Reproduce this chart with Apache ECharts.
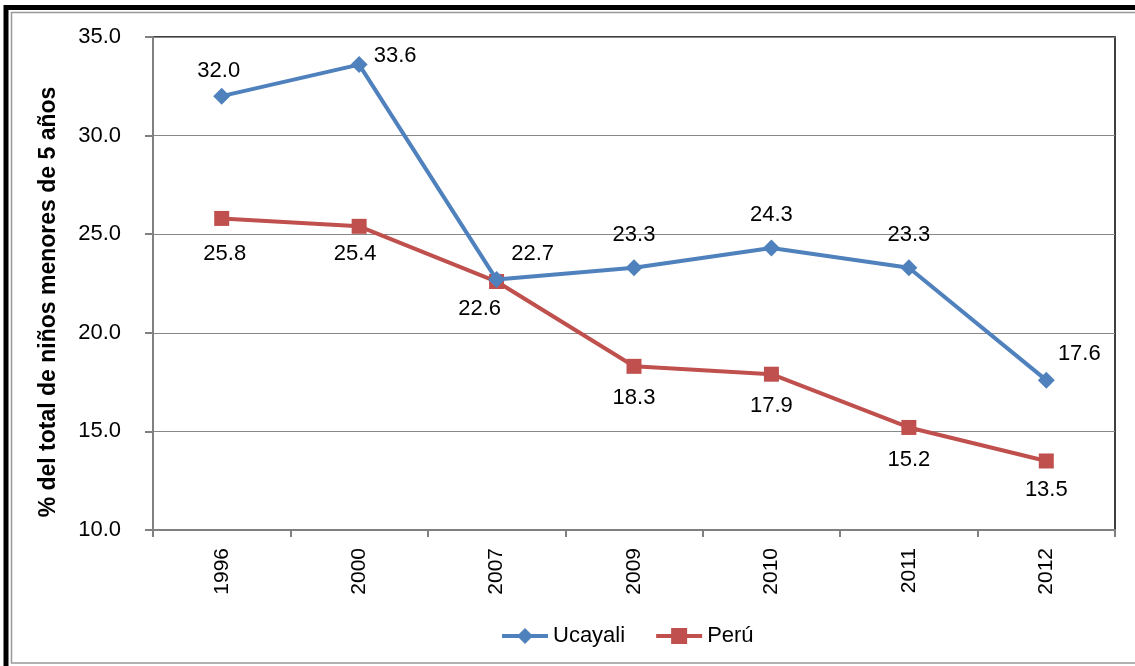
<!DOCTYPE html>
<html>
<head>
<meta charset="utf-8">
<script src="https://cdn.jsdelivr.net/npm/echarts@6/dist/echarts.min.js"></script>
<style>
  body { margin: 0; background: #fff; }
  #chart { width: 1135px; height: 666px; }
</style>
</head>
<body>
<div id="chart"></div>
<script>
var years = ['1996', '2000', '2007', '2009', '2010', '2011', '2012'];
var ucayali = [32.0, 33.6, 22.7, 23.3, 24.3, 23.3, 17.6];
var peru = [25.8, 25.4, 22.6, 18.3, 17.9, 15.2, 13.5];
var yTicks = [10, 15, 20, 25, 30, 35];

var font = '"Liberation Sans", Arial, sans-serif';

// where each data label sits (offsets in px from the point)
var ucaOffsets = [[-3, -25], [36, -9], [36, -26], [0, -33], [0, -33], [0, -33], [33, -26]];
var peruOffsets = [[3, 36], [-4, 28], [-17, 27], [0, 32], [0, 32], [0, 32], [0, 29]];

function withLabels(values, offsets) {
    return values.map(function (v, i) {
        return {
            value: v,
            label: { show: true, position: 'inside', offset: offsets[i] }
        };
    });
}

var chart = echarts.init(document.getElementById('chart'));

chart.setOption({
    backgroundColor: '#fff',
    animation: false,
    textStyle: { fontFamily: font },
    graphic: [
        { type: 'rect', shape: { x: 6, y: 7.5, width: 1140, height: 670 },
          style: { fill: 'none', stroke: '#000', lineWidth: 5 } },
        { type: 'rect', shape: { x: 11.5, y: 12.5, width: 1140, height: 650.5 },
          style: { fill: 'none', stroke: '#999', lineWidth: 1.5 } },
        { type: 'text', x: 49, y: 302, rotation: Math.PI / 2,
          style: { text: '% del total de niños menores de 5 años', fill: '#000',
                   font: 'bold 23px ' + font, align: 'center', verticalAlign: 'middle' } }
    ],
    grid: {
        left: 153, right: 20, top: 37, bottom: 136,
        show: true, borderColor: '#000', borderWidth: 1.5, backgroundColor: '#fff'
    },
    legend: {
        bottom: 14, left: 495,
        itemWidth: 46, itemHeight: 20, itemGap: 29,
        lineStyle: { width: 4 },
        textStyle: { fontSize: 22, color: '#000', fontFamily: font },
        data: ['Ucayali', 'Perú']
    },
    xAxis: {
        type: 'category',
        data: years,
        boundaryGap: true,
        axisLine: { lineStyle: { color: '#808080', width: 2 } },
        axisTick: { show: true, length: 7, lineStyle: { color: '#808080', width: 2 } },
        axisLabel: { rotate: 90, fontSize: 21, color: '#000', margin: 18, fontFamily: font }
    },
    yAxis: {
        type: 'value',
        min: yTicks[0], max: yTicks[yTicks.length - 1], interval: 5,
        axisLine: { show: true, lineStyle: { color: '#808080', width: 2 } },
        axisTick: { show: true, length: 8, lineStyle: { color: '#808080', width: 2 } },
        splitLine: { lineStyle: { color: '#888', width: 1 } },
        axisLabel: { fontSize: 22, color: '#000', margin: 32, fontFamily: font,
                     formatter: function (v) { return v.toFixed(1); } }
    },
    series: [
        {
            name: 'Ucayali',
            type: 'line',
            data: withLabels(ucayali, ucaOffsets),
            symbol: 'diamond', symbolSize: 17,
            itemStyle: { color: '#4F81BD' },
            lineStyle: { color: '#4F81BD', width: 4 },
            label: { fontSize: 22, color: '#000', fontFamily: font,
                     formatter: function (p) { return p.value.toFixed(1); } },
            z: 3
        },
        {
            name: 'Perú',
            type: 'line',
            data: withLabels(peru, peruOffsets),
            symbol: 'rect', symbolSize: 15,
            itemStyle: { color: '#C0504D' },
            lineStyle: { color: '#C0504D', width: 4 },
            label: { fontSize: 22, color: '#000', fontFamily: font,
                     formatter: function (p) { return p.value.toFixed(1); } },
            z: 2
        }
    ]
});
</script>
</body>
</html>
